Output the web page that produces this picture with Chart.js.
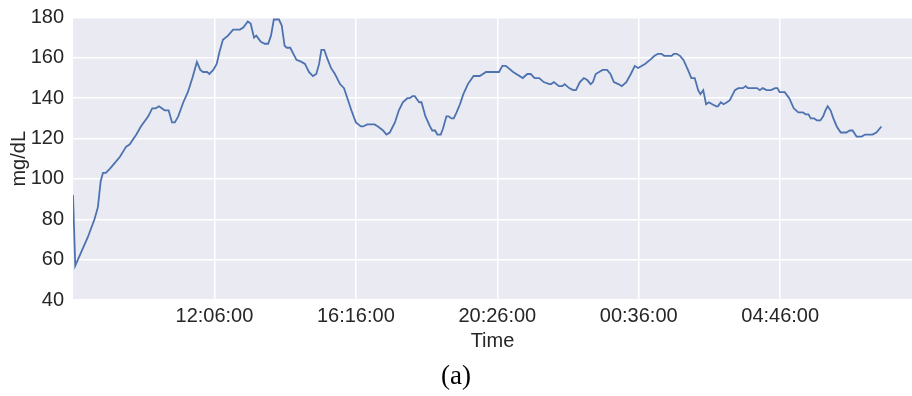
<!DOCTYPE html>
<html>
<head>
<meta charset="utf-8">
<script src="https://cdn.jsdelivr.net/npm/chart.js@4/dist/chart.umd.min.js"></script>
<style>
  html, body { margin: 0; padding: 0; background: #ffffff; }
  #wrap { width: 912px; height: 396px; }
</style>
</head>
<body>
<div id="wrap"><canvas id="glucose" width="912" height="396"></canvas></div>
<script>
// Sensor readings, clock time (runs overnight into the next morning)
const times = [
  '07:56','08:00','08:14','08:22','08:34','08:40','08:45','08:49','08:54','09:01',
  '09:07','09:19','09:30','09:36','09:48','09:56','10:09','10:16','10:22','10:28',
  '10:38','10:45','10:51','10:56','11:02','11:11','11:19','11:27','11:35','11:41',
  '11:46','11:53','11:57','12:04','12:10','12:15','12:21','12:30','12:39','12:51',
  '12:57','13:05','13:10','13:16','13:20','13:28','13:35','13:41','13:46','13:51',
  '13:57','14:00','14:05','14:10','14:14','14:20','14:31','14:40','14:46','14:53',
  '15:00','15:06','15:11','15:15','15:20','15:25','15:32','15:39','15:48','15:55',
  '16:01','16:08','16:16','16:25','16:29','16:36','16:49','16:55','17:04','17:10',
  '17:16','17:25','17:32','17:39','17:47','17:51','17:56','18:00','18:08','18:12',
  '18:19','18:27','18:31','18:36','18:40','18:46','18:50','18:56','19:00','19:05',
  '19:09','19:14','19:20','19:26','19:34','19:44','19:55','20:06','20:13','20:29',
  '20:35','20:41','20:54','21:11','21:19','21:25','21:32','21:40','21:48','21:58',
  '22:01','22:06','22:15','22:21','22:25','22:33','22:40','22:45','22:52','22:59',
  '23:05','23:11','23:15','23:20','23:32','23:40','23:46','23:52','00:00','00:06',
  '00:14','00:22','00:29','00:35','00:41','00:47','00:56','01:04','01:10','01:16',
  '01:21','01:34','01:38','01:43','01:49','01:55','02:03','02:09','02:15','02:21',
  '02:25','02:30','02:35','02:40','02:46','02:53','02:56','03:01','03:06','03:12',
  '03:17','03:26','03:32','03:40','03:45','03:49','04:05','04:10','04:15','04:22',
  '04:30','04:37','04:41','04:45','04:54','05:02','05:10','05:18','05:26','05:31',
  '05:36','05:40','05:46','05:51','05:57','06:02','06:06','06:10','06:15','06:20',
  '06:26','06:33','06:39','06:43','06:49','06:54','07:01','07:10','07:16','07:29',
  '07:36','07:45'
];

// Glucose, mg/dL
const glucose = [
   92,  57,  66,  71,  80,  86,  99, 103, 103, 105,
  107, 111, 116, 117, 122, 126, 131, 135, 135, 136,
  134, 134, 128, 128, 131, 138, 143, 150, 158, 154,
  153, 153, 152, 154, 157, 163, 169, 171, 174, 174,
  175, 178, 177, 170, 171, 168, 167, 167, 171, 179,
  179, 179, 176, 166, 165, 165, 159, 158, 157, 153,
  151, 152, 157, 164, 164, 160, 155, 152, 147, 145,
  140, 134, 128, 126, 126, 127, 127, 126, 124, 122,
  123, 128, 134, 138, 140, 140, 141, 141, 138, 138,
  131, 126, 124, 124, 122, 122, 125, 131, 131, 130,
  130, 133, 137, 142, 147, 151, 151, 153, 153, 153,
  156, 156, 153, 150, 152, 152, 150, 150, 148, 147,
  147, 148, 146, 146, 147, 145, 144, 144, 148, 150,
  149, 147, 148, 152, 154, 154, 152, 148, 147, 146,
  148, 152, 156, 155, 156, 157, 159, 161, 162, 162,
  161, 161, 162, 162, 161, 159, 154, 150, 150, 144,
  142, 144, 137, 138, 137, 136, 136, 138, 137, 138,
  139, 144, 145, 145, 146, 145, 145, 144, 145, 144,
  144, 145, 145, 143, 143, 140, 135, 133, 133, 132,
  132, 130, 130, 129, 129, 131, 134, 136, 134, 130,
  126, 123, 123, 123, 124, 124, 121, 121, 122, 122,
  123, 126
];

const tickLabels = ['12:06:00', '16:16:00', '20:26:00', '00:36:00', '04:46:00'];
const axisEnd = '08:39';
const yTicks = [40, 60, 80, 100, 120, 140, 160, 180];

// Clock strings -> minutes, rolling over midnight so values keep increasing
function clockToMinutes(list, floor) {
  let prev = floor;
  return list.map(s => {
    const p = s.split(':').map(Number);
    let v = p[0] * 60 + p[1] + (p[2] || 0) / 60;
    while (v < prev) v += 1440;
    prev = v;
    return v;
  });
}

const minutes = clockToMinutes(times, 0);
const tickPos = clockToMinutes(tickLabels, minutes[0]);
const xMax = clockToMinutes([axisEnd], minutes[minutes.length - 1])[0];
const points = minutes.map((m, i) => ({ x: m, y: glucose[i] }));

const ink = '#262626';
const sans = "'Liberation Sans', Arial, sans-serif";

// Grey plotting panel behind the grid
const plotBg = {
  id: 'plotBg',
  beforeDraw(chart) {
    const { ctx, chartArea: a } = chart;
    ctx.save();
    ctx.fillStyle = '#EAEAF2';
    ctx.fillRect(a.left, a.top, a.right - a.left, a.bottom - a.top);
    ctx.restore();
  }
};

new Chart(document.getElementById('glucose'), {
  type: 'line',
  data: {
    datasets: [{
      data: points,
      borderColor: '#4C72B0',
      borderWidth: 1.8,
      pointRadius: 0,
      tension: 0,
      fill: false
    }]
  },
  options: {
    responsive: false,
    animation: false,
    devicePixelRatio: 1,
    layout: { padding: { top: 17.5, left: 0, right: 0, bottom: 0 } },
    plugins: {
      legend: { display: false },
      tooltip: { enabled: false },
      title: {
        display: true,
        text: '(a)',
        position: 'bottom',
        color: '#000000',
        font: { family: "'Liberation Serif', 'DejaVu Serif', serif", size: 27, weight: 'normal', lineHeight: 1.2 },
        padding: { top: 6.2, bottom: 2.4 }
      }
    },
    scales: {
      x: {
        type: 'linear',
        min: minutes[0],
        max: xMax,
        afterBuildTicks: scale => { scale.ticks = tickPos.map(v => ({ value: v })); },
        afterFit: scale => { scale.height = 55; scale.paddingLeft = 0; scale.paddingRight = 0; },
        ticks: {
          autoSkip: false,
          maxRotation: 0,
          padding: 4,
          color: ink,
          font: { family: sans, size: 20 },
          callback: (value, index) => tickLabels[index]
        },
        grid: { color: '#ffffff', lineWidth: 1.5, drawTicks: false },
        border: { display: false },
        title: {
          display: true,
          text: 'Time',
          color: ink,
          font: { family: sans, size: 20, lineHeight: 1.2 },
          padding: { top: 0, bottom: 2 }
        }
      },
      y: {
        type: 'linear',
        min: yTicks[0],
        max: yTicks[yTicks.length - 1],
        afterBuildTicks: scale => { scale.ticks = yTicks.map(v => ({ value: v })); },
        afterFit: scale => { scale.width = 73; scale.paddingTop = 0; scale.paddingBottom = 0; },
        ticks: {
          padding: 9,
          color: ink,
          font: { family: sans, size: 20 }
        },
        grid: { color: '#ffffff', lineWidth: 1.5, drawTicks: false },
        border: { display: false },
        title: {
          display: true,
          text: 'mg/dL',
          color: ink,
          font: { family: sans, size: 20, lineHeight: 1.2 },
          padding: { top: 7, bottom: 0 }
        }
      }
    }
  },
  plugins: [plotBg]
});
</script>
</body>
</html>
